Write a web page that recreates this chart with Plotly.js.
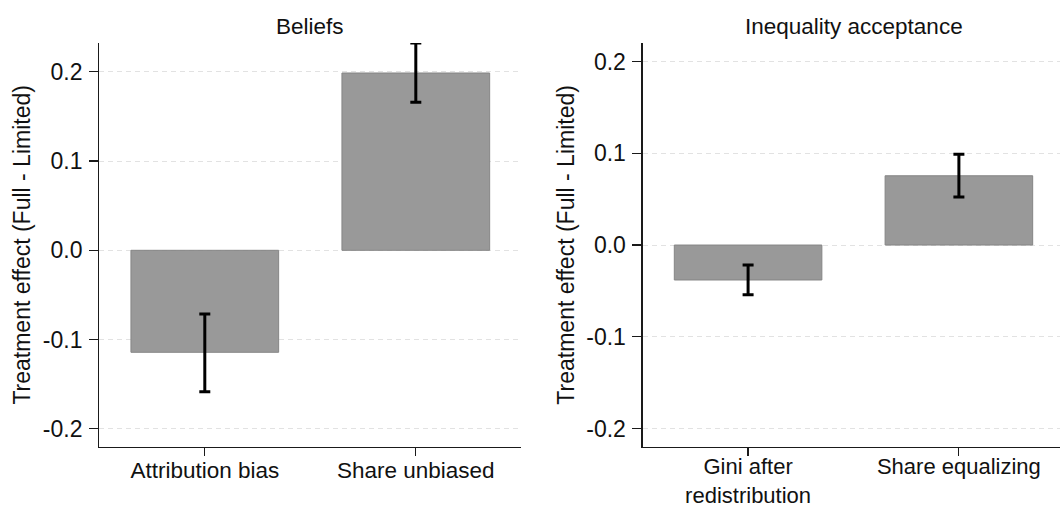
<!DOCTYPE html>
<html>
<head>
<meta charset="utf-8">
<script src="https://cdn.plot.ly/plotly-3.0.1.min.js"></script>
<style>
  html, body { margin: 0; padding: 0; background: #ffffff; }
  #chart { width: 1060px; height: 509px; }
</style>
</head>
<body>
<div id="chart"></div>
<script>
// ---- data ----
const panelTitles = ['Beliefs', 'Inequality acceptance'];
const beliefsCategories = ['Attribution bias', 'Share unbiased'];
const beliefsEffect = [-0.1143, 0.1987];
const beliefsErrPlus = [0.0429, 0.0336];
const beliefsErrMinus = [0.0441, 0.0329];

const inequalityCategories = ['Gini after<br>redistribution', 'Share equalizing'];
const inequalityEffect = [-0.0381, 0.0755];
const inequalityErrPlus = [0.0163, 0.0234];
const inequalityErrMinus = [0.0161, 0.0232];

const yTickValues = [-0.2, -0.1, 0.0, 0.1, 0.2];
const yTickLabels = ['-0.2', '-0.1', '0.0', '0.1', '0.2'];
const yAxisTitle = 'Treatment effect (Full - Limited)';

// ---- styling ----
const FONT = 'Liberation Sans, Arial, Helvetica, sans-serif';
const barStyle = { color: '#999999', line: { color: '#858585', width: 1 } };
const errStyle = { color: '#000000', thickness: 3, width: 5.5 };

function barTrace(x, y, plus, minus, xa, ya) {
  return {
    type: 'bar', x: x, y: y, xaxis: xa, yaxis: ya,
    width: 0.7, marker: barStyle,
    error_y: Object.assign({ type: 'data', symmetric: false, array: plus, arrayminus: minus, visible: true }, errStyle),
    hoverinfo: 'x+y', showlegend: false
  };
}

const data = [
  barTrace(beliefsCategories, beliefsEffect, beliefsErrPlus, beliefsErrMinus, 'x', 'y'),
  barTrace(inequalityCategories, inequalityEffect, inequalityErrPlus, inequalityErrMinus, 'x2', 'y2')
];

function xAxis(domain, range, fontSize, standoff) {
  return {
    domain: domain, range: range, type: 'category',
    showline: true, linecolor: '#1a1a1a', linewidth: 1.2,
    ticks: 'outside', ticklen: 8, tickwidth: 1.2, tickcolor: '#1a1a1a',
    ticklabelstandoff: standoff,
    showgrid: false, zeroline: false,
    tickfont: { family: FONT, size: fontSize, color: '#111111' },
    fixedrange: true
  };
}
function yAxis(range, anchor) {
  return {
    domain: [0.1224, 0.9155], range: range, anchor: anchor,
    showline: true, linecolor: '#1a1a1a', linewidth: 1.2,
    ticks: 'outside', ticklen: 9, tickwidth: 1.2, tickcolor: '#1a1a1a',
    ticklabelstandoff: 2,
    tickmode: 'array', tickvals: yTickValues, ticktext: yTickLabels,
    showgrid: true, gridcolor: '#e2e2e2', gridwidth: 1, griddash: '5px,4px',
    zeroline: false,
    tickfont: { family: FONT, size: 23, color: '#111111' },
    title: { text: yAxisTitle, font: { family: FONT, size: 23, color: '#111111' }, standoff: 5 },
    fixedrange: true
  };
}

const layout = {
  width: 1060, height: 509,
  margin: { l: 0, r: 0, t: 0, b: 0 },
  paper_bgcolor: '#ffffff', plot_bgcolor: '#ffffff',
  font: { family: FONT, color: '#111111' },
  bargap: 0.3,
  xaxis: Object.assign(xAxis([0.09368, 0.4918], [-0.5, 1.5], 22.5, -5), { anchor: 'y' }),
  yaxis: yAxis([-0.2201, 0.2323], 'x'),
  xaxis2: Object.assign(xAxis([0.6063, 1.0], [-0.5, 1.4796], 22, -8), { anchor: 'y2' }),
  yaxis2: yAxis([-0.2198, 0.2202], 'x2'),
  annotations: [
    { text: panelTitles[0], xref: 'paper', yref: 'paper', x: 310 / 1060, y: 1 - 26 / 509,
      xanchor: 'center', yanchor: 'middle', showarrow: false,
      font: { family: FONT, size: 22.5, color: '#111111' } },
    { text: panelTitles[1], xref: 'paper', yref: 'paper', x: 854.4 / 1060, y: 1 - 26 / 509,
      xanchor: 'center', yanchor: 'middle', showarrow: false,
      font: { family: FONT, size: 22.5, color: '#111111' } }
  ]
};

Plotly.newPlot('chart', data, layout, { staticPlot: true, displayModeBar: false });
</script>
</body>
</html>
